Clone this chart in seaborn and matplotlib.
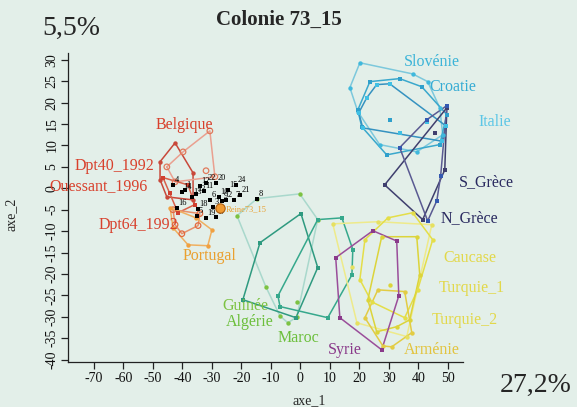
import matplotlib
matplotlib.use("Agg")
import matplotlib.pyplot as plt
import numpy as np
import seaborn as sns

# ---- data (axe_1, axe_2) ----
slovenie_x = [20.2, 16.8, 19.5, 26.9, 39.5, 48.3, 47.3, 43.2, 38.1]
slovenie_y = [29.3, 23.5, 17.9, 10.2, 8.5, 12.5, 18.8, 24.9, 26.7]
croatie_x = [23.6, 33.7, 41.2, 49.7, 47.3, 29.3, 20.8, 19.5, 30.3]
croatie_y = [24.9, 25.6, 23.7, 17.2, 10.2, 7.8, 14.4, 18.3, 16.0]
italie_x = [25.9, 30.3, 42.9, 33.7, 21.2, 19.8, 22.5, 49.5, 48.0]
italie_y = [24.2, 24.4, 15.5, 13.0, 14.1, 17.6, 21.1, 14.5, 11.0]
s_grece_x = [49.7, 45.6, 28.6, 41.5, 49.0]
s_grece_y = [18.8, 13.0, 0.8, -7.3, 4.3]
n_grece_x = [33.7, 42.9, 49.7, 47.6, 46.3, 43.2]
n_grece_y = [9.5, 16.0, 19.3, 2.9, -2.9, -7.6]
caucase_x = [11.0, 26.3, 44.6, 36.1, 19.2, 17.5]
caucase_y = [-8.3, -7.8, -8.5, -34.6, -31.4, -18.3]
turquie1_x = [29.7, 38.1, 44.9, 39.8, 35.4, 24.2, 20.2, 21.9]
turquie1_y = [-6.9, -5.7, -12.0, -23.7, -30.2, -26.5, -21.3, -12.0]
turquie2_x = [27.6, 39.5, 40.5, 37.1, 32.7, 25.9, 22.9, 30.3]
turquie2_y = [-11.3, -11.3, -20.2, -30.7, -32.3, -33.5, -26.0, -22.5]
armenie_x = [28.0, 31.0, 37.8, 35.4, 26.3, 21.9]
armenie_y = [-36.8, -37.0, -33.7, -24.1, -23.7, -30.2]
syrie_x = [24.6, 32.7, 33.4, 27.6, 13.4, 12.0]
syrie_y = [-9.9, -12.3, -25.1, -37.7, -30.2, -16.2]
algerie_x = [-19.5, -13.7, 0.2, 5.9, -1.5]
algerie_y = [-26.0, -12.7, -5.9, -18.5, -30.2]
maroc_x = [-7.6, 5.9, 14.1, 17.8, 17.5, 9.3, -6.9]
maroc_y = [-25.1, -7.3, -6.9, -14.3, -20.2, -30.2, -27.6]
guinee_x = [-21.5, -14.7, -0.2, 5.9, -1.2, -11.7, -6.9, -4.2, -1.2]
guinee_y = [-6.4, -2.4, -1.3, -7.3, -30.0, -23.0, -29.8, -31.4, -26.5]
belgique_x = [-42.5, -47.6, -47.6, -45.3, -36.4, -36.4]
belgique_y = [10.6, 6.2, 2.0, -2.0, -2.7, 3.6]
dpt40_x = [-30.7, -39.8, -45.3, -42.5, -32.0, -29.0]
dpt40_y = [13.4, 8.5, 5.0, 1.5, 4.1, 2.7]
ouessant_x = [-46.6, -44.2, -41.5, -35.8, -38.1]
ouessant_y = [2.5, -1.0, -5.7, -3.8, 0.8]
dpt64_x = [-43.2, -42.5, -40.2, -34.7, -34.1]
dpt64_y = [-5.0, -8.5, -10.6, -8.7, -5.9]
portugal_x = [-44.2, -43.2, -38.1, -31.4, -30.0, -35.4]
portugal_y = [-4.5, -9.2, -13.2, -13.4, -9.7, -6.9]
reine_x = [-27.3]
reine_y = [-4.6]

# ouvrieres de la colonie 73_15
ouvr_id = list(range(1, 25))
ouvr_x = [-39.2, -25.3, -29.7, -43.2, -35.1, -30.7, -22.5, -14.7, -26.6, -27.6, -32.7, -34.1,
          -36.8, -40.2, -24.6, -41.9, -28.6, -34.7, -32.0, -28.6, -20.5, -32.0, -35.4, -21.9]
ouvr_y = [-0.3, -2.7, -4.3, 0.8, -6.4, -2.7, -2.7, -2.4, -2.9, -2.0, -0.6, 0.6,
          -2.0, -0.8, -0.3, -4.5, -6.6, -4.8, -6.9, 1.3, -1.5, 1.3, -1.3, 0.8]

# group: (x, y, line colour, point colour, marker, open marker)
groups = {
    "Guinée": (guinee_x, guinee_y, "#a9d8cc", "#7cc242", "o", False),
    "Algérie": (algerie_x, algerie_y, "#2f9a80", "#2f9a80", "s", False),
    "Maroc": (maroc_x, maroc_y, "#36a88c", "#36a88c", "s", False),
    "Slovénie": (slovenie_x, slovenie_y, "#7cc8dc", "#3fb8dc", "o", False),
    "Croatie": (croatie_x, croatie_y, "#3aa8cc", "#2fa0cc", "s", False),
    "Italie": (italie_x, italie_y, "#3592c0", "#40c0e4", "s", False),
    "Caucase": (caucase_x, caucase_y, "#eeea8a", "#e6e060", "o", False),
    "Turquie_1": (turquie1_x, turquie1_y, "#e4de48", "#e4de48", "o", False),
    "Turquie_2": (turquie2_x, turquie2_y, "#dcd43a", "#dcd43a", "o", False),
    "Arménie": (armenie_x, armenie_y, "#e2cc44", "#e2cc44", "o", False),
    "Syrie": (syrie_x, syrie_y, "#9a4e9a", "#8a3a8a", "s", False),
    "S_Grèce": (s_grece_x, s_grece_y, "#3f3f6e", "#3f3f6e", "s", False),
    "N_Grèce": (n_grece_x, n_grece_y, "#5a5a92", "#3458b0", "s", False),
    "Belgique": (belgique_x, belgique_y, "#c8483a", "#c8483a", "o", False),
    "Dpt40_1992": (dpt40_x, dpt40_y, "#eaa090", "#e07a5c", "o", True),
    "Ouessant_1996": (ouessant_x, ouessant_y, "#d8604a", "#d04030", "s", False),
    "Dpt64_1992": (dpt64_x, dpt64_y, "#e8906a", "#e26a40", "o", True),
    "Portugal": (portugal_x, portugal_y, "#f0b060", "#f0a040", "o", False),
}

# label positions and colours
labels = {
    "Slovénie": (44.6, 29.5, "#3cb4d8"), "Croatie": (51.7, 23.7, "#36acd4"),
    "Italie": (66.0, 15.5, "#5cc6e6"), "S_Grèce": (63.2, 1.5, "#2a2a60"),
    "N_Grèce": (57.5, -6.9, "#2a2a60"), "Caucase": (57.5, -16.2, "#e2d84a"),
    "Turquie_1": (58.3, -23.2, "#e2d84a"), "Turquie_2": (55.8, -30.7, "#e2d84a"),
    "Arménie": (44.6, -37.7, "#e2c440"), "Syrie": (15.1, -37.7, "#8a3a8a"),
    "Maroc": (-0.8, -34.9, "#6cbf3c"), "Guinée": (-18.8, -27.4, "#7cc242"),
    "Algérie": (-17.1, -31.1, "#6cbf3c"), "Portugal": (-30.7, -15.8, "#eaa030"),
    "Dpt64_1992": (-55.1, -8.5, "#d8402c"), "Ouessant_1996": (-68.6, 0.4, "#d8402c"),
    "Dpt40_1992": (-62.9, 5.3, "#d8402c"), "Belgique": (-39.2, 14.8, "#d8402c"),
}


def hull(xs, ys):
    pts = sorted(set(zip(xs, ys)))
    if len(pts) < 3:
        return pts

    def cross(o, a, b):
        return (a[0] - o[0]) * (b[1] - o[1]) - (a[1] - o[1]) * (b[0] - o[0])

    lower, upper = [], []
    for p in pts:
        while len(lower) >= 2 and cross(lower[-2], lower[-1], p) <= 0:
            lower.pop()
        lower.append(p)
    for p in reversed(pts):
        while len(upper) >= 2 and cross(upper[-2], upper[-1], p) <= 0:
            upper.pop()
        upper.append(p)
    h = lower[:-1] + upper[:-1]
    return h + [h[0]]


sns.set_theme(style="ticks")
plt.rcParams["font.family"] = ["Liberation Serif", "DejaVu Serif"]
plt.rcParams["axes.unicode_minus"] = False
bg = "#e3efe9"

fig = plt.figure(figsize=(5.77, 4.07), dpi=100, facecolor=bg)
ax = fig.add_axes([0.118, 0.111, 0.684, 0.759])
ax.set_facecolor(bg)

for name, (gx, gy, lc, pc, mk, hollow) in groups.items():
    h = np.array(hull(gx, gy))
    ax.plot(h[:, 0], h[:, 1], color=lc, lw=1.1, zorder=2)
    if hollow:
        sns.scatterplot(x=gx, y=gy, marker=mk, s=16, facecolor="none", edgecolor=pc,
                        linewidth=0.9, ax=ax, legend=False, zorder=3)
    else:
        sns.scatterplot(x=gx, y=gy, marker=mk, s=10, color=pc, edgecolor=pc,
                        linewidth=0, ax=ax, legend=False, zorder=3)

# colonie 73_15
sns.scatterplot(x=ouvr_x, y=ouvr_y, marker="s", s=11, color="black", edgecolor="black",
                linewidth=0, ax=ax, legend=False, zorder=4)
for i, x, y in zip(ouvr_id, ouvr_x, ouvr_y):
    ax.annotate(str(i), (x, y), xytext=(1, 2), textcoords="offset points",
                fontsize=6, color="black", zorder=5)
sns.scatterplot(x=reine_x, y=reine_y, marker="o", s=45, color="#f09a30", edgecolor="#b06010",
                linewidth=0.8, ax=ax, legend=False, zorder=5)
ax.annotate("Reine73_15", (reine_x[0], reine_y[0]), xytext=(4, -2.5), textcoords="offset points",
            fontsize=6, color="#e8a030", zorder=5)

for name, (lx, ly, c) in labels.items():
    ax.text(lx, ly, name, color=c, fontsize=11.5, ha="center", va="center", clip_on=False)

ax.set_xlim(-78.8, 55.1)
ax.set_ylim(-40.5, 31.6)
ax.set_xticks(np.arange(-70, 51, 10))
ax.set_yticks(np.arange(-40, 31, 5))
ax.tick_params(axis="both", labelsize=10, length=5, width=0.9, color="#222222",
               labelcolor="#111111", pad=2)
ax.tick_params(axis="y", labelrotation=90)
for lab in ax.get_yticklabels():
    lab.set_va("center")
sns.despine(ax=ax)
for s in ("left", "bottom"):
    ax.spines[s].set_color("#222222")
    ax.spines[s].set_linewidth(0.9)

ax.set_xlabel("axe_1", fontsize=10)
ax.set_ylabel("axe_2", fontsize=10)
ax.xaxis.set_label_coords(0.61, -0.105)
ax.yaxis.set_label_coords(-0.127, 0.476)

fig.text(279 / 577, 1 - 20 / 407, "Colonie 73_15", fontsize=15, fontweight="bold",
         ha="center", va="center")
fig.text(71 / 577, 1 - 28 / 407, "5,5%", fontsize=20, ha="center", va="center")
fig.text(536 / 577, 1 - 385 / 407, "27,2%", fontsize=20, ha="center", va="center")

fig.savefig("out.png", dpi=100, facecolor=bg)
